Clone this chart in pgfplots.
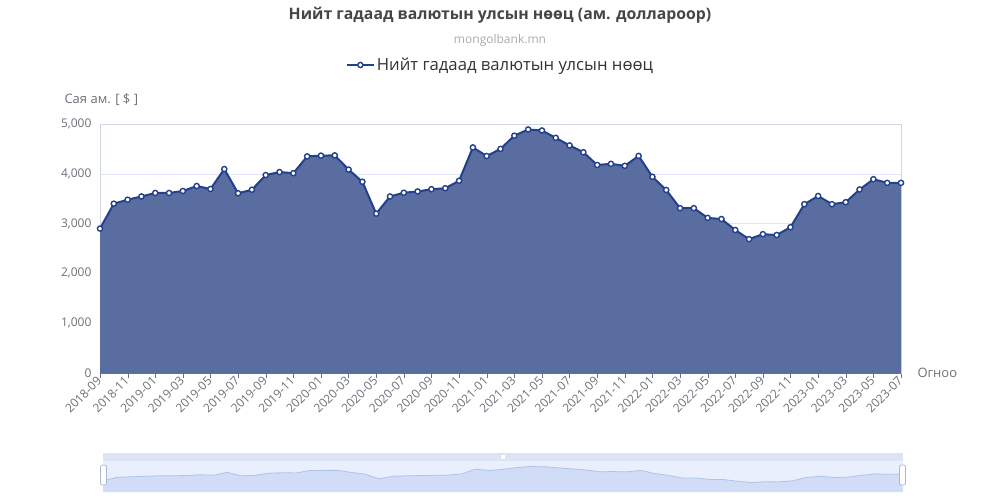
\documentclass[border=0pt]{standalone}
\usepackage{pgfplots}
\pgfplotsset{compat=1.18}
\usepackage{pgfplotstable}
\usepackage{fontspec}
\setmainfont{Open Sans}
\definecolor{linecol}{HTML}{23408B}
\definecolor{areacol}{HTML}{5A6DA0}
\definecolor{titlecol}{HTML}{464646}
\definecolor{subcol}{HTML}{AAAAAA}
\definecolor{legtext}{HTML}{333333}
\definecolor{tickcol}{HTML}{6E7079}
\definecolor{gridcol}{HTML}{E0E6F1}
\definecolor{bordercol}{HTML}{D0D6E2}
\definecolor{slbg}{HTML}{E9EFFC}
\definecolor{slband}{HTML}{DDE3F3}
\definecolor{minifill}{HTML}{D1DDF7}
\definecolor{miniline}{HTML}{B0C2EC}
\definecolor{handlecol}{HTML}{ACB8D1}

\pgfplotstableread{
x y
0 2900
1 3400
2 3480
3 3545
4 3615
5 3615
6 3655
7 3755
8 3695
9 4095
10 3610
11 3680
12 3975
13 4035
14 4012
15 4350
16 4365
17 4370
18 4085
19 3840
20 3200
21 3545
22 3620
23 3645
24 3690
25 3710
26 3860
27 4530
28 4357
29 4500
30 4765
31 4890
32 4870
33 4722
34 4570
35 4433
36 4177
37 4200
38 4160
39 4360
40 3940
41 3675
42 3310
43 3310
44 3115
45 3092
46 2871
47 2688
48 2788
49 2771
50 2928
51 3390
52 3554
53 3390
54 3430
55 3685
56 3892
57 3818
58 3818
}\datatable

\begin{document}
\begin{tikzpicture}
\path[use as bounding box] (0,0) rectangle (1000pt,-498pt);
\node[font=\bfseries\fontsize{15.8}{19}\selectfont, text=titlecol] at (500pt,-15pt) {Нийт гадаад валютын улсын нөөц (ам. доллароор)};
\node[font=\fontsize{12}{14}\selectfont, text=subcol] at (500pt,-40pt) {mongolbank.mn};
\node[font=\fontsize{13}{15}\selectfont, text=tickcol, anchor=west] at (61pt,-100pt) {Сая ам. [ \$ ]};
\node[font=\fontsize{13}{15}\selectfont, text=tickcol, anchor=west] at (914pt,-373pt) {Огноо};

\begin{axis}[
  at={(100pt,-373pt)}, anchor=south west,
  scale only axis, width=801pt, height=249pt,
  xmin=0, xmax=58, ymin=0, ymax=5000,
  clip=false,
  xtick={0,2,...,58},
  xticklabels={2018-09,2018-11,2019-01,2019-03,2019-05,2019-07,2019-09,2019-11,2020-01,2020-03,2020-05,2020-07,2020-09,2020-11,2021-01,2021-03,2021-05,2021-07,2021-09,2021-11,2022-01,2022-03,2022-05,2022-07,2022-09,2022-11,2023-01,2023-03,2023-05,2023-07},
  ytick={0,1000,...,5000},
  /pgf/number format/1000 sep={,},
  /pgf/number format/assume math mode=true,
  yticklabel style={font=\fontsize{12}{14}\selectfont, text=tickcol},
  xticklabel style={rotate=45, anchor=east, font=\fontsize{12}{14}\selectfont, text=tickcol, inner sep=1pt},
  axis line style={draw=bordercol},
  ymajorgrids, grid style={draw=gridcol},
  xtick pos=bottom, ytick pos=left,
  ytick style={draw=none},
  xtick style={draw=tickcol},
  tick align=outside, major tick length=5pt,
  legend style={at={(0.5,1.237)}, anchor=center, draw=none, fill=none, font=\fontsize{16.7}{19}\selectfont, text=legtext, inner sep=0pt},
  legend image code/.code={\draw[#1, mark repeat=2, mark phase=2] plot coordinates {(0pt,0pt) (13.5pt,0pt) (27pt,0pt)};},
]
\addplot[fill=areacol, draw=none, forget plot] table[x=x,y=y] {\datatable} \closedcycle;
\draw[tickcol, line width=0.8pt] (axis cs:0,0) -- (axis cs:58,0);
\addplot[draw=linecol, line width=2pt, mark=*, mark size=2.6pt, mark options={fill=white, draw=linecol, line width=1.4pt}] table[x=x,y=y] {\datatable};
\addlegendentry{Нийт гадаад валютын улсын нөөц}
\end{axis}

\fill[slband] (103pt,-453pt) rectangle (903pt,-461pt);
\fill[slbg] (103pt,-461pt) rectangle (903pt,-492pt);
\fill[white] (501pt,-455pt) rectangle (505pt,-459pt);
\begin{axis}[
  at={(103pt,-492pt)}, anchor=south west,
  scale only axis, width=800pt, height=31pt,
  xmin=0, xmax=58, ymin=1377, ymax=5661,
  hide axis,
]
\addplot[fill=minifill, draw=none] table[x=x,y=y] {\datatable} \closedcycle;
\addplot[draw=miniline, line width=0.8pt] table[x=x,y=y] {\datatable};
\end{axis}
\draw[fill=white, draw=handlecol, line width=0.8pt, rounded corners=2pt] (100.5pt,-465pt) rectangle (106.5pt,-485pt);
\draw[fill=white, draw=handlecol, line width=0.8pt, rounded corners=2pt] (899.5pt,-465pt) rectangle (905.5pt,-485pt);
\end{tikzpicture}
\end{document}
